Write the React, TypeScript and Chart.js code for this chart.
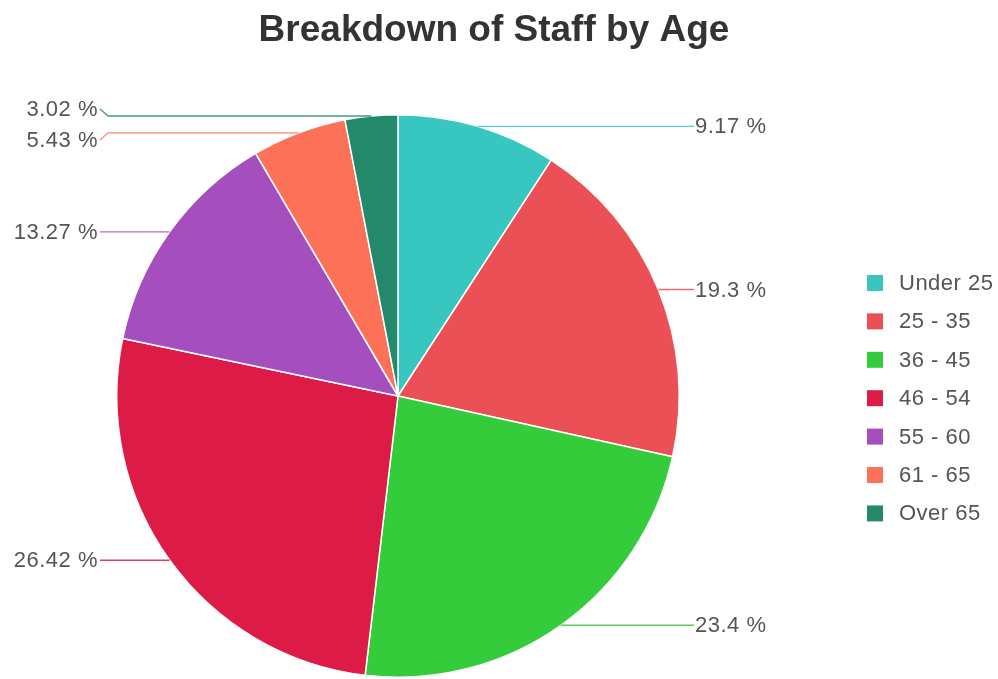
import React, { useEffect, useRef } from "react";
import { Chart, registerables } from "chart.js";

Chart.register(...registerables);

const categories = ["Under 25", "25 - 35", "36 - 45", "46 - 54", "55 - 60", "61 - 65", "Over 65"];
const percentages = [9.17, 19.3, 23.4, 26.42, 13.27, 5.43, 3.02];
const percentLabels = ["9.17 %", "19.3 %", "23.4 %", "26.42 %", "13.27 %", "5.43 %", "3.02 %"];
const sliceColors = ["#37c6c0", "#ea5055", "#35cc3c", "#dc1b47", "#a54fbe", "#fc7157", "#24886a"];
const titleText = "Breakdown of Staff by Age";

const FONT = "'Liberation Sans', Arial, sans-serif";

const overlayPlugin = {
  id: "overlay",
  afterDraw(chart: any) {
    const ctx: any = chart.ctx;
    const meta = chart.getDatasetMeta(0);
    ctx.save();

    // Title
    ctx.font = `bold 37px ${FONT}`;
    ctx.fillStyle = "#333333";
    ctx.textAlign = "center";
    ctx.textBaseline = "alphabetic";
    ctx.fillText(titleText, 494, 41);

    // Slice labels with leader lines
    const items = meta.data.map((arc: any, i: number) => {
      const p = arc.getProps(["x", "y", "startAngle", "endAngle", "outerRadius"], true);
      const mid = (p.startAngle + p.endAngle) / 2;
      const px = p.x + Math.cos(mid) * p.outerRadius;
      const py = p.y + Math.sin(mid) * p.outerRadius;
      return { i, cx: p.x, px, py, ty: py, right: px >= p.x };
    });
    const minGap = 31;
    [true, false].forEach((side) => {
      const group = items.filter((it: any) => it.right === side).sort((a: any, b: any) => a.ty - b.ty);
      for (let iter = 0; iter < 60; iter++) {
        for (let k = 1; k < group.length; k++) {
          const gap = group[k].ty - group[k - 1].ty;
          if (gap < minGap) {
            const d = (minGap - gap) / 2;
            group[k].ty += d;
            group[k - 1].ty -= d;
          }
        }
      }
    });

    ctx.font = `22px ${FONT}`;
    try { ctx.letterSpacing = "0.5px"; } catch (e) {}
    ctx.textBaseline = "middle";
    items.forEach((it: any) => {
      const color = sliceColors[it.i];
      const lineEnd = it.right ? it.cx + 296 : it.cx - 298;
      const bendX = it.right ? lineEnd - 8 : lineEnd + 8;
      ctx.strokeStyle = color;
      ctx.globalAlpha = 0.85;
      ctx.lineWidth = 1.3;
      ctx.beginPath();
      ctx.moveTo(it.px, it.py);
      if (Math.abs(it.ty - it.py) > 1) {
        ctx.lineTo(bendX, it.py);
        ctx.lineTo(lineEnd, it.ty);
      } else {
        ctx.lineTo(lineEnd, it.py);
      }
      ctx.stroke();
      ctx.globalAlpha = 1;
      ctx.fillStyle = "#555555";
      ctx.textAlign = it.right ? "left" : "right";
      ctx.fillText(percentLabels[it.i], it.right ? lineEnd + 1 : lineEnd - 2, it.ty + 1);
    });

    // Legend
    const lx = 867;
    const ly0 = 283;
    const step = 38.4;
    categories.forEach((c, i) => {
      const y = ly0 + i * step;
      ctx.fillStyle = sliceColors[i];
      ctx.fillRect(lx, y - 8, 16, 16);
      ctx.fillStyle = "#555555";
      ctx.textAlign = "left";
      ctx.fillText(c, 899, y + 1);
    });

    ctx.restore();
  },
};

export default function App() {
  const canvasRef = useRef<HTMLCanvasElement | null>(null);

  useEffect(() => {
    if (!canvasRef.current) return;
    const chart = new Chart(canvasRef.current, {
      type: "pie",
      data: {
        labels: categories,
        datasets: [
          {
            data: percentages,
            backgroundColor: sliceColors,
            borderColor: "#ffffff",
            borderWidth: 1.5,
          },
        ],
      },
      options: {
        responsive: false,
        maintainAspectRatio: false,
        animation: false,
        layout: { padding: { top: 114, left: 0, right: 202, bottom: 1 } },
        plugins: {
          legend: { display: false },
          title: { display: false },
          tooltip: { enabled: false },
        },
      },
      plugins: [overlayPlugin],
    });
    return () => chart.destroy();
  }, []);

  return (
    <div style={{ position: "fixed", left: 0, top: 0, width: 998, height: 679, background: "#ffffff", overflow: "hidden" }}>
      <canvas ref={canvasRef} width={998} height={679} style={{ width: 998, height: 679 }} />
    </div>
  );
}
